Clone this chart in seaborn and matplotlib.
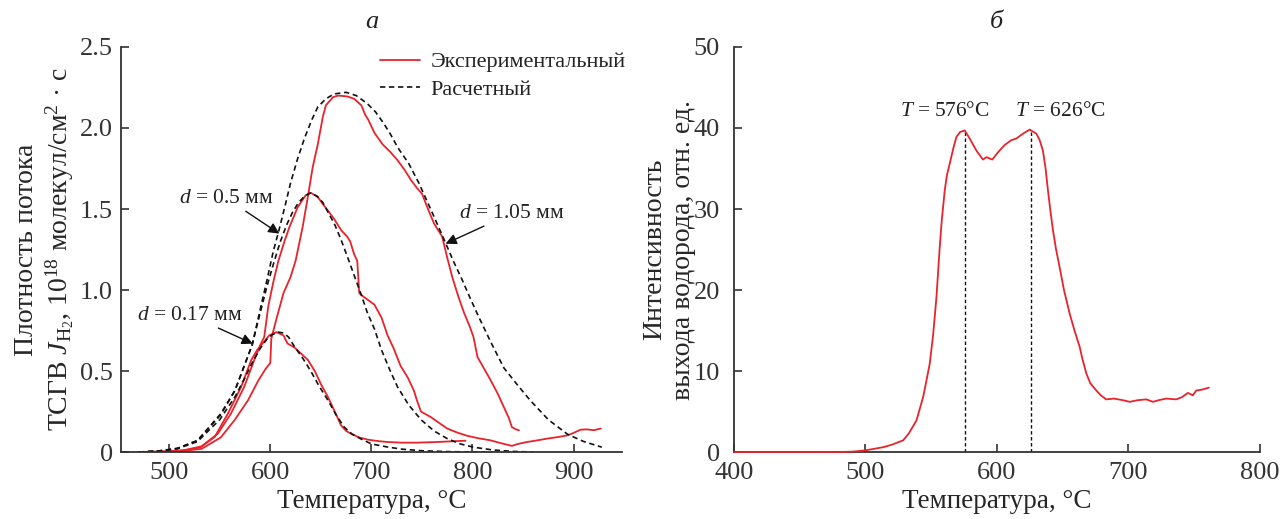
import numpy as np
import pandas as pd
import seaborn as sns
import matplotlib
matplotlib.use("Agg")
import matplotlib.pyplot as plt
from matplotlib.lines import Line2D

# ---------------- panel (a): hydrogen flux density vs temperature ----------------
# experimental curves, d = 0.17 / 0.5 / 1.05 mm
exp017_T = [470, 500, 515, 531, 545, 558, 571, 581, 587, 591, 599, 606, 613, 617, 624, 630,
            637, 644, 650, 657, 663, 670, 675, 680, 688, 696, 706, 716, 730, 745, 765, 793]
exp017_J = [0.0, 0.003, 0.01, 0.03, 0.093, 0.237, 0.40, 0.566, 0.63, 0.66, 0.72, 0.74, 0.72,
            0.67, 0.645, 0.61, 0.57, 0.50, 0.42, 0.34, 0.26, 0.165, 0.13, 0.113, 0.09, 0.077,
            0.068, 0.062, 0.058, 0.058, 0.062, 0.07]

exp05_T = [470, 500, 515, 532, 548, 561, 574, 584, 590, 594, 598, 603, 608, 614, 619, 627,
           635, 640, 647, 652, 657, 663, 670, 676, 679, 683, 686, 688, 693, 703, 710, 716,
           722, 729, 736, 742, 745, 749, 759, 767, 775, 785, 795, 806, 818, 828, 839, 845,
           854, 864, 874, 884, 894, 900, 907, 913, 920, 927]
exp05_J = [0.0, 0.004, 0.012, 0.035, 0.113, 0.237, 0.40, 0.566, 0.66, 0.71, 0.90, 1.05, 1.18,
           1.30, 1.39, 1.51, 1.585, 1.60, 1.574, 1.53, 1.49, 1.44, 1.37, 1.33, 1.30, 1.22,
           1.18, 0.98, 0.955, 0.91, 0.83, 0.72, 0.64, 0.53, 0.46, 0.38, 0.32, 0.25, 0.215,
           0.18, 0.145, 0.12, 0.10, 0.085, 0.072, 0.055, 0.038, 0.05, 0.062, 0.072, 0.083,
           0.092, 0.103, 0.118, 0.138, 0.14, 0.135, 0.145]

exp105_T = [470, 500, 515, 532, 551, 565, 578, 588, 595, 600, 601, 606, 613, 620, 625, 632,
            637, 642, 647, 652, 655, 662, 667, 676, 683, 690, 694, 697, 703, 711, 719, 726,
            733, 739, 745, 750, 756, 762, 766, 770, 775, 780, 786, 792, 797, 801, 805, 811,
            818, 825, 831, 836, 839, 843, 846]
exp105_J = [0.0, 0.003, 0.008, 0.02, 0.09, 0.20, 0.32, 0.44, 0.51, 0.55, 0.70, 0.82, 0.98,
            1.08, 1.18, 1.39, 1.57, 1.76, 1.90, 2.07, 2.14, 2.19, 2.20, 2.195, 2.18, 2.14,
            2.08, 2.05, 1.97, 1.90, 1.85, 1.80, 1.74, 1.68, 1.63, 1.595, 1.50, 1.41, 1.37,
            1.33, 1.20, 1.08, 0.96, 0.854, 0.78, 0.71, 0.586, 0.52, 0.443, 0.36, 0.278, 0.21,
            0.154, 0.14, 0.134]

# calculated curves
calc017_T = [470, 490, 508, 528, 550, 565, 575, 582, 590, 597, 602, 608, 613, 618, 624, 632,
             640, 648, 657, 665, 673, 681, 690, 700, 716, 730, 750, 780, 820]
calc017_J = [0.0, 0.006, 0.02, 0.065, 0.2, 0.34, 0.46, 0.55, 0.64, 0.70, 0.725, 0.74, 0.735,
             0.71, 0.65, 0.58, 0.50, 0.41, 0.32, 0.23, 0.155, 0.11, 0.08, 0.05, 0.031, 0.018,
             0.008, 0.002, 0.0]

calc05_T = [470, 490, 508, 528, 551, 565, 582, 590, 597, 604, 610, 616, 622, 628, 634, 640,
            646, 652, 658, 664, 670, 676, 683, 690, 696, 703, 710, 718, 726, 737, 749, 762,
            775, 788, 801, 820, 840, 860]
calc05_J = [0.0, 0.007, 0.022, 0.07, 0.23, 0.38, 0.66, 0.86, 1.03, 1.18, 1.30, 1.40, 1.48,
            1.54, 1.58, 1.60, 1.58, 1.54, 1.47, 1.40, 1.31, 1.21, 1.09, 0.97, 0.86, 0.76,
            0.63, 0.51, 0.40, 0.29, 0.20, 0.13, 0.083, 0.05, 0.03, 0.013, 0.004, 0.0]

calc105_T = [470, 490, 508, 528, 551, 565, 582, 590, 597, 603, 609, 615, 620, 627, 634, 641,
             647, 655, 663, 675, 685, 696, 704, 712, 719, 726, 737, 747, 760, 772, 781, 790,
             797, 805, 818, 831, 845, 857, 875, 894, 910, 928]
calc105_J = [0.0, 0.007, 0.023, 0.072, 0.237, 0.38, 0.66, 0.88, 1.07, 1.24, 1.38, 1.53, 1.66,
             1.81, 1.94, 2.05, 2.13, 2.18, 2.21, 2.22, 2.20, 2.15, 2.10, 2.03, 1.96, 1.88,
             1.78, 1.66, 1.48, 1.31, 1.18, 1.06, 0.96, 0.85, 0.68, 0.52, 0.41, 0.32, 0.20,
             0.11, 0.065, 0.03]

# ---------------- panel (b): hydrogen yield intensity vs temperature ----------------
yield_T = [400, 450, 480, 490, 499.5, 505, 513.5, 520, 528.7, 533, 538.8, 543.9, 546, 548.9,
           551.5, 554, 556.5, 558, 560.3, 562, 564.1, 567, 569.2, 572, 575.5, 579.3, 584.4,
           589.4, 592, 596.5, 600.8, 605.9, 611, 614.8, 619.8, 624.9, 630, 632.5, 635,
           637, 638.8, 640.5, 642.6, 645, 647.7, 651, 655.3, 659, 662.9, 665, 668, 671,
           675.6, 679, 683.2, 689, 695.9, 701, 707, 713.6, 718.7, 723, 728.8, 736.4, 741,
           745.2, 749, 751.6, 756, 761.2]
yield_I = [0.0, 0.0, 0.0, 0.05, 0.2, 0.35, 0.6, 0.9, 1.45, 2.3, 3.9, 6.8, 8.5, 10.9, 14.5,
           19.1, 25.3, 28.5, 32.3, 34.2, 35.6, 37.6, 38.9, 39.5, 39.7, 38.7, 37.2, 36.1, 36.4,
           36.1, 37.0, 37.9, 38.5, 38.7, 39.3, 39.8, 39.3, 38.5, 37.2, 35.0, 32.3, 30.0,
           27.4, 25.0, 22.8, 20.0, 17.1, 15.0, 13.0, 11.5, 9.7, 8.5, 7.6, 7.0, 6.5, 6.6, 6.4,
           6.2, 6.4, 6.5, 6.2, 6.4, 6.6, 6.5, 6.8, 7.3, 7.0, 7.6, 7.7, 7.95]
peak_T = [576, 626]
peak_I = [39.7, 39.8]
peak_labels = ["$T$ = 576°C", "$T$ = 626°C"]
peak_label_T = [560, 648.5]

sns.set_theme(style="ticks")
plt.rcParams.update({
    "font.family": ["Liberation Serif", "DejaVu Serif"],
    "mathtext.fontset": "custom",
    "mathtext.rm": "Liberation Serif",
    "mathtext.it": "Liberation Serif:italic",
    "mathtext.bf": "Liberation Serif:bold",
    "axes.edgecolor": "#333333",
    "axes.linewidth": 1.3,
    "xtick.direction": "in",
    "ytick.direction": "in",
    "xtick.major.size": 6,
    "ytick.major.size": 6,
    "xtick.major.width": 1.2,
    "ytick.major.width": 1.2,
    "xtick.color": "#333333",
    "ytick.color": "#333333",
    "text.color": "#222222",
})

RED = "#e8232b"
DASH = (0, (3.2, 2.2))
fig = plt.figure(figsize=(12.8, 5.19), dpi=100)
ax1 = fig.add_axes([0.0943, 0.129, 0.3917, 0.7805])
ax2 = fig.add_axes([0.5734, 0.129, 0.4109, 0.7805])


def draw(ax, T, v, **kw):
    df = pd.DataFrame({"T": T, "v": v})
    sns.lineplot(data=df, x="T", y="v", ax=ax, sort=False, estimator=None, **kw)


for T, J in [(exp017_T, exp017_J), (exp05_T, exp05_J), (exp105_T, exp105_J)]:
    draw(ax1, T, J, color=RED, lw=1.3)
for T, J in [(calc017_T, calc017_J), (calc05_T, calc05_J), (calc105_T, calc105_J)]:
    draw(ax1, T, J, color="#111111", lw=1.2, linestyle=DASH)

ax1.set_xlim(452, 948)
ax1.set_ylim(0, 2.5)
ax1.set_xticks([500, 600, 700, 800, 900])
ax1.set_yticks([0, 0.5, 1.0, 1.5, 2.0, 2.5])
ax1.set_yticklabels(["0", "0.5", "1.0", "1.5", "2.0", "2.5"])
ax1.set_xlabel("Температура, °C", fontsize=19.5, labelpad=4)
ax1.set_ylabel("Плотность потока\nТСГВ $J_{\\mathrm{H}_2}$, 10$^{18}$ молекул/см$^2$ · с",
               fontsize=20, linespacing=1.2)
ax1.yaxis.set_label_coords(-0.088, 0.5)
ax1.set_title("а", fontsize=19, style="italic", pad=14)
ax1.tick_params(axis="x", labelsize=19, pad=7)
ax1.tick_params(axis="y", labelsize=19, pad=5.5)
sns.despine(ax=ax1)

handles = [Line2D([], [], color=RED, lw=1.3),
           Line2D([], [], color="#111111", lw=1.2, linestyle=DASH)]
ax1.legend(handles, ["Экспериментальный", "Расчетный"], loc="upper left",
           bbox_to_anchor=(0.5, 1.01), frameon=False, fontsize=16, handlelength=1.8,
           handletextpad=0.45, labelspacing=0.3, borderaxespad=0)

arrow = dict(arrowstyle="-|>", color="#111111", lw=1.0, mutation_scale=16,
             shrinkA=0, shrinkB=0)
ax1.annotate("$d$ = 0.5 мм", xy=(608.9, 1.348), xytext=(556.8, 1.565), fontsize=15.5,
             ha="center", va="center", arrowprops=arrow)
ax1.annotate("$d$ = 0.17 мм", xy=(582.6, 0.669), xytext=(520.7, 0.844), fontsize=15.5,
             ha="center", va="center", arrowprops=arrow)
ax1.annotate("$d$ = 1.05 мм", xy=(773.4, 1.286), xytext=(839, 1.473), fontsize=15.5,
             ha="center", va="center", arrowprops=arrow)

# yield curve drawn above the spine so its baseline stays visible
draw(ax2, yield_T, yield_I, color=RED, lw=1.3, zorder=3, clip_on=False)
for t, i in zip(peak_T, peak_I):
    ax2.vlines(t, 0, i, color="#111111", lw=1.0, linestyles=(0, (2.5, 1.8)))
for t, s in zip(peak_label_T, peak_labels):
    ax2.text(t, 42.0, s, fontsize=15.5, ha="center", va="center")

ax2.set_xlim(400, 800)
ax2.set_ylim(0, 50)
ax2.set_xticks([400, 500, 600, 700, 800])
ax2.set_yticks([0, 10, 20, 30, 40, 50])
ax2.set_xlabel("Температура, °C", fontsize=19.5, labelpad=4)
ax2.set_ylabel("Интенсивность\nвыхода водорода, отн. ед.", fontsize=20, linespacing=1.2)
ax2.yaxis.set_label_coords(-0.072, 0.5)
ax2.set_title("б", fontsize=19, style="italic", pad=14)
ax2.tick_params(axis="x", labelsize=19, pad=7)
ax2.tick_params(axis="y", labelsize=19, pad=10)
sns.despine(ax=ax2)

fig.savefig("out.png", dpi=100)
